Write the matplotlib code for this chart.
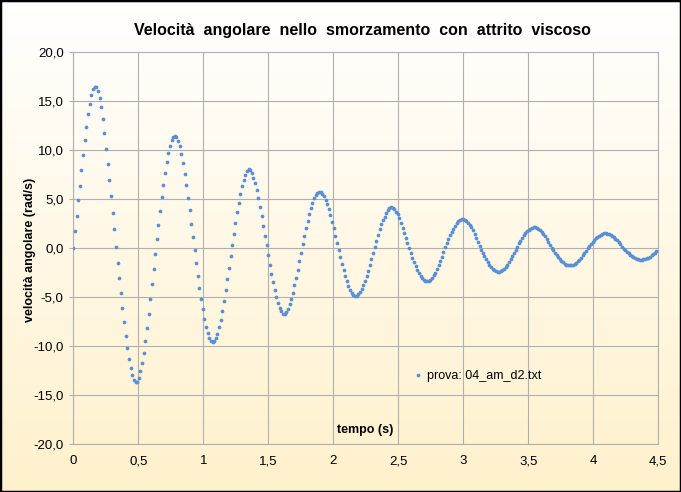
import numpy as np
import matplotlib
matplotlib.use("Agg")
import matplotlib.pyplot as plt
from matplotlib.colors import LinearSegmentedColormap
from matplotlib.patches import Rectangle
from matplotlib.ticker import FuncFormatter, FixedLocator

# === dati (velocita' angolare, rad/s) ===
DT = 0.0126  # passo di campionamento (s)

# prima oscillazione (campioni 0-72)
omega_a = [0.08, 1.72, 3.26, 4.89, 6.39, 7.96, 9.49, 11.03, 12.36, 13.69,
           14.71, 15.63, 16.25, 16.49, 16.45, 16.04, 15.29, 14.41, 13.18, 11.74,
           10.18, 8.57, 6.94, 5.30, 3.56, 1.92, 0.18,
           -1.47, -3.03, -4.56, -6.09, -7.52, -8.95, -10.17, -11.30, -12.22, -12.93,
           -13.44, -13.64, -13.60, -13.23, -12.52, -11.70, -10.68, -9.46, -8.13, -6.70,
           -5.17, -3.64, -2.11, -0.58, 0.95, 2.38, 3.81, 5.23, 6.46, 7.68,
           8.81, 9.72, 10.44, 11.05, 11.36, 11.46, 11.35, 10.95, 10.44, 9.62,
           8.70, 7.58, 6.46, 5.13, 3.91, 2.48]

# seconda e terza oscillazione (campioni 73-159)
omega_b = [1.18, -0.14, -1.47, -2.83, -4.02, -5.14, -6.16, -7.18, -8.00, -8.61,
           -9.12, -9.43, -9.53, -9.43, -9.12, -8.71, -8.00, -7.29, -6.37, -5.35,
           -4.22, -3.10, -1.98, -0.76, 0.37, 1.49, 2.61, 3.73, 4.65, 5.57,
           6.39, 7.00, 7.51, 7.92, 8.12, 8.02, 7.71, 7.20, 6.69, 5.98,
           5.16, 4.24, 3.33, 2.31,
           1.29, 0.37, -0.65, -1.67, -2.59, -3.41, -4.22, -4.94, -5.55, -6.06,
           -6.37, -6.67, -6.67, -6.47, -6.19, -5.68, -5.17, -4.56, -3.74, -3.03,
           -2.21, -1.30, -0.48, 0.44, 1.25, 2.07, 2.79, 3.50, 4.14, 4.65,
           5.16, 5.47, 5.67, 5.78, 5.74, 5.57, 5.37, 4.96, 4.55, 4.04,
           3.43, 2.71, 2.10]

# quarta e quinta oscillazione (campioni 160-248)
omega_c = [1.29, 0.57, -0.14, -0.86, -1.57, -2.18, -2.80, -3.31, -3.82, -4.22,
           -4.53, -4.73, -4.84, -4.84, -4.63, -4.43, -4.12, -3.71, -3.31, -2.80,
           -2.29, -1.67, -1.06, -0.45, 0.16, 0.78, 1.39, 1.94, 2.45, 2.86,
           3.16, 3.57, 3.88, 4.08, 4.18, 4.08, 3.98, 3.67, 3.47, 3.06,
           2.55, 2.04, 1.53, 1.02, 0.51, 0.00,
           -0.48, -0.95, -1.40, -1.82, -2.20, -2.54, -2.83, -3.05, -3.22, -3.31,
           -3.34, -3.30, -3.19, -3.01, -2.77, -2.48, -2.13, -1.74, -1.31, -0.86,
           -0.38,
           0.09, 0.51, 0.92, 1.32, 1.68, 2.02, 2.31, 2.55, 2.74, 2.87,
           2.95, 2.96, 2.91, 2.80, 2.63, 2.41, 2.14, 1.82, 1.47, 1.09,
           0.68, 0.26]

# ultime oscillazioni (campioni 249-356)
omega_d = [-0.14, -0.48, -0.81, -1.12, -1.41, -1.67, -1.90, -2.08, -2.23, -2.33,
           -2.37, -2.37, -2.33, -2.23, -2.08, -1.90, -1.67, -1.41, -1.12, -0.81,
           -0.48, -0.14,
           0.18, 0.49, 0.78, 1.06, 1.32, 1.55, 1.74, 1.90, 2.02, 2.10,
           2.14, 2.13, 2.08, 1.98, 1.84, 1.67, 1.46, 1.22, 0.95, 0.67,
           0.37, 0.06,
           -0.20, -0.45, -0.68, -0.91, -1.11, -1.29, -1.44, -1.57, -1.66, -1.72,
           -1.74, -1.73, -1.68, -1.59, -1.47, -1.32, -1.15, -0.95, -0.73, -0.49,
           -0.25, 0.00,
           0.22, 0.43, 0.64, 0.83, 1.01, 1.16, 1.29, 1.40, 1.47, 1.52,
           1.53, 1.51, 1.46, 1.38, 1.27, 1.14, 0.97, 0.80, 0.60, 0.39,
           0.18,
           -0.03, -0.20, -0.36, -0.52, -0.66, -0.79, -0.90, -1.00, -1.07, -1.13,
           -1.15, -1.16, -1.14, -1.10, -1.03, -0.94, -0.84, -0.71, -0.57, -0.43,
           -0.27]

omega = np.array(omega_a + omega_b + omega_c + omega_d)
tempo = np.arange(len(omega)) * DT

x_ticks = [0, 0.5, 1, 1.5, 2, 2.5, 3, 3.5, 4, 4.5]
y_ticks = [-20, -15, -10, -5, 0, 5, 10, 15, 20]

title = "Velocità  angolare  nello  smorzamento  con  attrito  viscoso"
x_label = "tempo (s)"
y_label = "velocità angolare (rad/s)"
serie_label = "prova: 04_am_d2.txt"

# === stile ===
plt.rcParams.update({
    'font.family': ['Liberation Sans', 'DejaVu Sans'],
    'font.size': 9.5,
})

W, H = 681, 492
fig = plt.figure(figsize=(W / 100, H / 100), dpi=100)

# sfondo sfumato bianco -> giallo chiaro
bg = fig.add_axes([0, 0, 1, 1], zorder=0)
grad = np.linspace(0, 1, 256).reshape(-1, 1)
cmap_bg = LinearSegmentedColormap.from_list("bg", ["#FFFFFF", "#FFF1CC"])
bg.imshow(grad, aspect='auto', cmap=cmap_bg, extent=[0, 1, 0, 1], origin='upper')
bg.axis('off')

# area del grafico (pixel: x 73..658, y 52..444)
left, right, top, bottom = 73.3, 658.3, 52.3, 444.3
ax = fig.add_axes([left / W, 1 - bottom / H, (right - left) / W, (bottom - top) / H], zorder=1)
ax.patch.set_alpha(0)

grid_c = "#B0B0B0"
ax.set_xlim(0, 4.5)
ax.set_ylim(-20, 20)
ax.xaxis.set_major_locator(FixedLocator(x_ticks))
ax.yaxis.set_major_locator(FixedLocator(y_ticks))
ax.xaxis.set_major_formatter(FuncFormatter(lambda v, _: f"{v:g}".replace('.', ',')))
ax.yaxis.set_major_formatter(FuncFormatter(lambda v, _: f"{v:.1f}".replace('.', ',')))
ax.grid(True, color=grid_c, linewidth=0.8)
ax.set_axisbelow(True)
for s in ax.spines.values():
    s.set_color(grid_c)
    s.set_linewidth(0.8)
ax.tick_params(axis='x', length=0, pad=8, labelsize=9.5, colors='black')
ax.tick_params(axis='y', length=3, width=0.8, color=grid_c, pad=4, labelsize=9.5, labelcolor='black')

ax.plot(tempo, omega, linestyle='none', marker='o', ms=2.7, mew=0,
        color='#5A8FD4', label=serie_label, zorder=3)

ax.legend(loc='center left', bbox_to_anchor=(413 / W, 1 - 376 / H),
          bbox_transform=fig.transFigure, frameon=False, numpoints=1,
          handlelength=0.8, handletextpad=0.3, borderpad=0, borderaxespad=0,
          fontsize=9)

# testi
fig.text(362 / W, 1 - 30 / H, title, ha='center', va='center',
         fontsize=11.5, fontweight='bold')
fig.text(365 / W, 1 - 430 / H, x_label, ha='center', va='center',
         fontsize=9, fontweight='bold')
fig.text(30 / W, 1 - 250 / H, y_label, ha='center', va='center',
         rotation=90, fontsize=9, fontweight='bold')

# bordo esterno
fig.patches.append(Rectangle((0, 0), 1, 1, transform=fig.transFigure,
                             fill=False, edgecolor='black', linewidth=2.5))

fig.savefig("out.png", dpi=100)
